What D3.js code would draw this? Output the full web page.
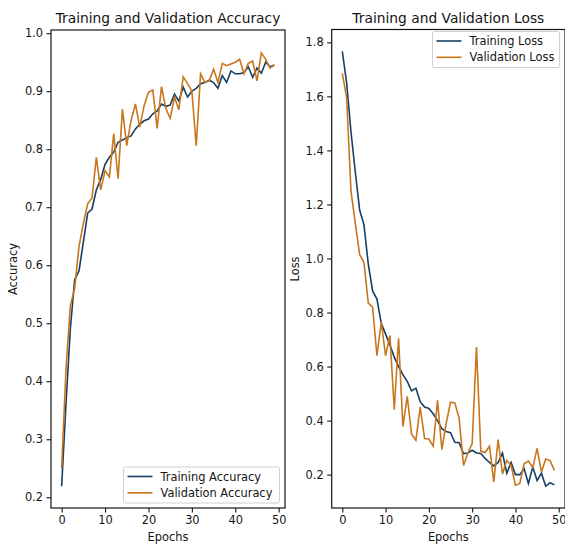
<!DOCTYPE html>
<meta charset="utf-8">
<script src="https://d3js.org/d3.v7.min.js"></script>
<style>
  body { margin: 0; background: #fff; }
  text { font-family: "DejaVu Sans", sans-serif; fill: #141414; }
</style>
<body>
<div id="chart"></div>
<script>
// epochs 0..49
const epochs = d3.range(50);

const trainAcc = [0.219, 0.36, 0.49, 0.575, 0.59, 0.64, 0.69, 0.697, 0.73, 0.748,
  0.774, 0.786, 0.795, 0.812, 0.816, 0.82, 0.823, 0.835, 0.843, 0.849,
  0.852, 0.861, 0.866, 0.878, 0.874, 0.876, 0.895, 0.883, 0.907, 0.89,
  0.9, 0.905, 0.913, 0.915, 0.919, 0.915, 0.905, 0.927, 0.915, 0.935,
  0.93, 0.93, 0.932, 0.942, 0.924, 0.94, 0.931, 0.95, 0.942, 0.945];

const valAcc = [0.25, 0.42, 0.53, 0.56, 0.632, 0.672, 0.706, 0.716, 0.786, 0.73,
  0.763, 0.752, 0.827, 0.749, 0.869, 0.806, 0.85, 0.878, 0.838, 0.875,
  0.898, 0.902, 0.836, 0.908, 0.87, 0.853, 0.89, 0.868, 0.925, 0.913,
  0.9, 0.806, 0.93, 0.915, 0.918, 0.938, 0.915, 0.948, 0.944, 0.947,
  0.95, 0.955, 0.93, 0.948, 0.952, 0.918, 0.966, 0.955, 0.94, 0.945];

const trainLoss = [1.767, 1.65, 1.47, 1.32, 1.18, 1.125, 0.98, 0.88, 0.85, 0.76,
  0.72, 0.68, 0.635, 0.6, 0.57, 0.545, 0.51, 0.52, 0.47, 0.45,
  0.445, 0.425, 0.4, 0.37, 0.36, 0.355, 0.32, 0.318, 0.278, 0.28,
  0.29, 0.28, 0.278, 0.26, 0.245, 0.232, 0.245, 0.28, 0.205, 0.245,
  0.2, 0.2, 0.222, 0.167, 0.228, 0.178, 0.205, 0.157, 0.17, 0.162];

const valLoss = [1.685, 1.595, 1.25, 1.13, 1.015, 0.985, 0.835, 0.82, 0.64, 0.765,
  0.64, 0.715, 0.44, 0.705, 0.378, 0.49, 0.35, 0.327, 0.45, 0.334,
  0.332, 0.305, 0.475, 0.293, 0.39, 0.468, 0.465, 0.408, 0.234, 0.28,
  0.315, 0.672, 0.287, 0.282, 0.305, 0.173, 0.33, 0.202, 0.253, 0.234,
  0.16, 0.167, 0.24, 0.25, 0.226, 0.297, 0.21, 0.258, 0.252, 0.216];

const xTicks = [0, 10, 20, 30, 40, 50];
const accTicks = [0.2, 0.3, 0.4, 0.5, 0.6, 0.7, 0.8, 0.9, 1.0];
const lossTicks = [0.2, 0.4, 0.6, 0.8, 1.0, 1.2, 1.4, 1.6, 1.8];

const blue = "#163f63", orange = "#c8761e";

const svg = d3.select("#chart").append("svg")
  .attr("width", 565).attr("height", 545);

function panel(opt) {
  const x = d3.scaleLinear().domain([-2.45, 51.45]).range([opt.left, opt.right]);
  const y = d3.scaleLinear().domain(opt.yDomain).range([508, opt.top]);
  const g = svg.append("g");

  const line = d3.line().x((d, i) => x(epochs[i])).y(d => y(d));
  g.append("path").datum(opt.a).attr("d", line)
    .attr("fill", "none").attr("stroke", blue).attr("stroke-width", 1.6);
  g.append("path").datum(opt.b).attr("d", line)
    .attr("fill", "none").attr("stroke", orange).attr("stroke-width", 1.6);

  g.append("rect")
    .attr("x", opt.left).attr("y", opt.top)
    .attr("width", opt.right - opt.left).attr("height", 508 - opt.top)
    .attr("fill", "none").attr("stroke", "#141414").attr("stroke-width", 1.2);

  const xa = g.append("g").attr("transform", "translate(0,508)")
    .call(d3.axisBottom(x).tickValues(xTicks).tickSize(4.5).tickPadding(3));
  const ya = g.append("g").attr("transform", `translate(${opt.left},0)`)
    .call(d3.axisLeft(y).tickValues(opt.yTicks).tickFormat(d3.format(".1f")).tickSize(4.5).tickPadding(3.5));
  [xa, ya].forEach(a => {
    a.select(".domain").remove();
    a.selectAll("line").attr("stroke", "#141414").attr("stroke-width", 1.1);
    a.selectAll("text").style("font-size", "11.4px").attr("fill", "#141414")
      .style("font-family", "DejaVu Sans, sans-serif");
  });

  const cx = (opt.left + opt.right) / 2;
  g.append("text").attr("x", cx).attr("y", 22.5).attr("text-anchor", "middle")
    .style("font-size", "13.8px").text(opt.title);
  g.append("text").attr("x", cx).attr("y", 540.5).attr("text-anchor", "middle")
    .style("font-size", "11.4px").text("Epochs");
  g.append("text").attr("transform", `translate(${opt.ylabX},269) rotate(-90)`)
    .attr("text-anchor", "middle").style("font-size", "11.4px").text(opt.ylabel);

  // legend
  const L = opt.legend;
  const lg = g.append("g").attr("transform", `translate(${L.x},${L.y})`);
  lg.append("rect").attr("width", L.w).attr("height", 36).attr("rx", 2)
    .attr("fill", "#fff").attr("fill-opacity", 0.8).attr("stroke", "#d0d0d0");
  opt.names.forEach((n, i) => {
    lg.append("line").attr("x1", 4).attr("x2", 29).attr("y1", 9.5 + i * 16.3).attr("y2", 9.5 + i * 16.3)
      .attr("stroke", i ? orange : blue).attr("stroke-width", 1.6);
    lg.append("text").attr("x", 37).attr("y", 13.5 + i * 16.3)
      .style("font-size", "11.4px").text(n);
  });
}

panel({
  left: 51, right: 285, top: 30, yDomain: [0.1815, 1.0055], yTicks: accTicks,
  a: trainAcc, b: valAcc, title: "Training and Validation Accuracy",
  ylabel: "Accuracy", ylabX: 16.5,
  names: ["Training Accuracy", "Validation Accuracy"],
  legend: {x: 123.5, y: 467, w: 156}
});

panel({
  left: 331.7, right: 565, top: 29.5, yDomain: [0.0765, 1.8475], yTicks: lossTicks,
  a: trainLoss, b: valLoss, title: "Training and Validation Loss",
  ylabel: "Loss", ylabX: 298.5,
  names: ["Training Loss", "Validation Loss"],
  legend: {x: 432.5, y: 31.5, w: 127}
});
</script>
</body>
